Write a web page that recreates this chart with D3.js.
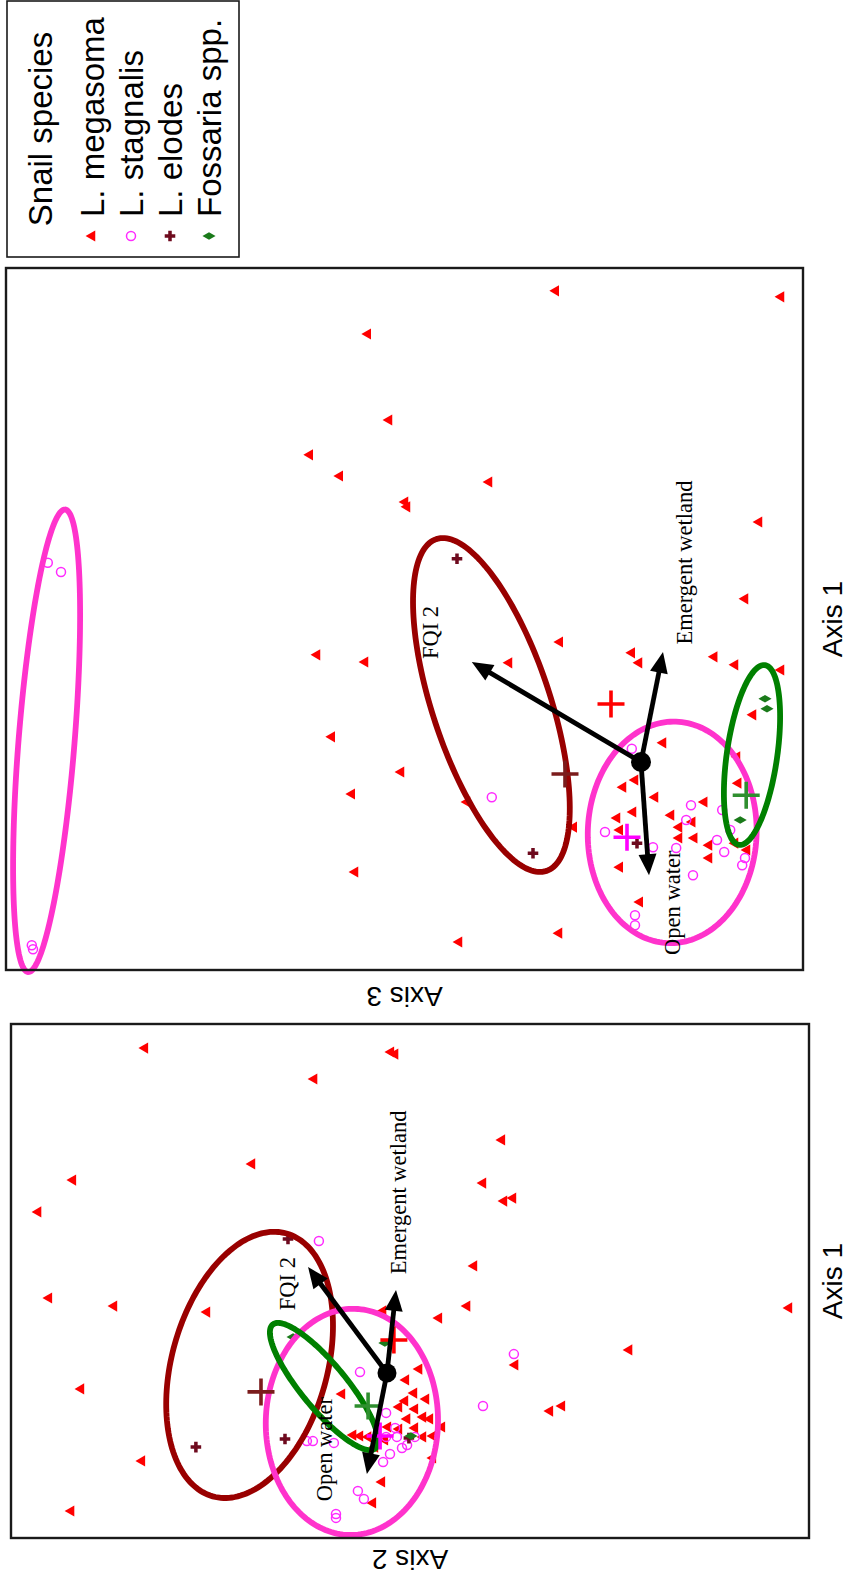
<!DOCTYPE html>
<html>
<head>
<meta charset="utf-8">
<script src="https://cdn.jsdelivr.net/npm/d3@7"></script>
<style>
  html, body { margin: 0; padding: 0; background: #ffffff; }
  svg { display: block; }
</style>
</head>
<body>
<script>
// ---------------------------------------------------------------
// Snail species in ordination space (NMDS site scores),
// with group ellipses, group centroids and fitted habitat vectors.
// ---------------------------------------------------------------

const species = ["L. megasoma", "L. stagnalis", "L. elodes", "Fossaria spp."];
const vectorNames = ["FQI 2", "Emergent wetland", "Open water"];

// ---- Axis 1 vs Axis 2 : site scores [axis1, axis2] ----
const a12Megasoma = [
  [1.083,0.807],[1.070,-0.013],[1.063,-0.027],[0.980,0.243],[0.777,-0.383],[0.697,0.450],
  [0.643,1.047],[0.633,-0.320],[0.537,1.163],[0.573,-0.390],[0.583,-0.420],[0.357,-0.290],
  [0.250,1.127],[0.223,0.910],[0.203,0.600],[0.223,-0.267],[0.183,-0.173],[0.217,-1.340],
  [0.077,-0.807],[0.027,-0.427],[-0.053,1.020],[-0.070,0.150],[-0.127,-0.543],[-0.110,-0.583],
  [-0.293,0.817],[-0.363,0.017],[-0.433,0.047],[-0.460,1.053],[-0.283,-0.153],[0.207,0.013],
  [0.013,-0.107],[-0.023,-0.063],[-0.067,-0.090],[-0.093,-0.060],[-0.087,-0.130],[-0.120,-0.093],
  [-0.113,-0.040],[-0.147,-0.120],[-0.153,-0.067],[-0.153,-0.143],[-0.180,-0.003],[-0.187,-0.040],
  [-0.183,-0.093],[-0.180,-0.183],[-0.213,-0.120],[-0.210,-0.153],[-0.207,0.113],[-0.210,0.090],
  [-0.213,0.063],[-0.247,0.040],[-0.223,0.007]
];
const a12Stagnalis = [
  [0.440,0.227],[0.003,0.090],[0.063,-0.423],[-0.110,-0.320],[-0.227,0.267],[-0.227,0.247],
  [-0.233,0.177],[-0.133,0.003],[-0.183,-0.027],[-0.213,0.003],[-0.213,-0.033],[-0.213,-0.093],
  [-0.240,-0.067],[-0.250,-0.050],[-0.270,-0.010],[-0.297,0.013],[-0.393,0.097],[-0.420,0.077],
  [-0.470,0.170],[-0.483,0.170]
];
const a12Elodes = [[0.447,0.330],[-0.247,0.637],[-0.220,0.340],[-0.217,-0.073]];
const a12Fossaria = [[0.120,0.313],[0.100,0.007],[-0.210,-0.080]];
// group centroids, in species order
const a12Centroids = [[0.110,-0.023],[-0.210,0.023],[-0.063,0.420],[-0.110,0.063]];
// fitted vectors, in vectorNames order
const a12Vectors = [[0.353,0.263],[0.277,-0.030],[-0.337,0.067]];
// ellipses: species index, centre, semi-axes, rotation (degrees)
const a12Ellipses = [
  { sp: 2, centre: [0.027, 0.458],  semi: [0.455, 0.259], rot: -15.65 },
  { sp: 1, centre: [-0.163, 0.117], semi: [0.377, 0.287], rot: -1.5 },
  { sp: 3, centre: [-0.045, 0.210], semi: [0.268, 0.075], rot: 39.6 }
];

// ---- Axis 1 vs Axis 3 : site scores [axis1, axis3] ----
const a13Megasoma = [
  [1.178,0.213],[1.163,-0.350],[1.070,0.683],[0.855,0.630],[0.768,0.828],[0.715,0.753],
  [0.700,0.380],[0.650,0.590],[0.638,0.585],[0.600,-0.295],[0.408,-0.260],[0.300,0.203],
  [0.273,0.023],[0.248,0.005],[0.263,-0.183],[0.243,-0.235],[0.230,-0.350],[0.268,0.810],
  [0.250,0.690],[0.248,0.330],[0.063,0.773],[-0.025,0.600],[-0.080,0.723],[-0.100,0.435],
  [0.048,-0.055],[0.118,-0.280],[0.013,-0.240],[-0.053,-0.243],[-0.063,0.045],[-0.088,-0.035],
  [-0.125,0.020],[-0.140,0.060],[-0.133,-0.075],[-0.100,-0.158],[-0.163,-0.095],[-0.170,0.053],
  [-0.190,-0.133],[-0.190,-0.095],[-0.208,-0.170],[-0.203,-0.235],[-0.220,-0.265],[-0.240,-0.170],
  [-0.263,0.053],[-0.163,0.168],[-0.275,0.715],[-0.350,0.003],[-0.428,0.205],[-0.450,0.455],
  [-0.045,0.015],[-0.150,-0.128]
];
const a13Stagnalis = [
  [0.498,1.483],[0.475,1.450],[-0.458,1.523],[-0.468,1.520],[0.033,0.023],[-0.088,0.373],
  [-0.108,-0.125],[-0.145,-0.113],[-0.175,0.090],[-0.213,-0.030],[-0.215,-0.088],[-0.195,-0.190],
  [-0.225,-0.208],[-0.120,-0.203],[-0.170,-0.223],[-0.240,-0.260],[-0.258,-0.253],[-0.283,-0.130],
  [-0.383,0.015],[-0.408,0.015]
];
const a13Elodes = [[0.508,0.460],[-0.228,0.270],[-0.203,0.010]];
const a13Fossaria = [[0.158,-0.310],[0.133,-0.315],[-0.145,-0.248]];
const a13Centroids = [[0.145,0.075],[-0.188,0.035],[-0.030,0.190],[-0.083,-0.263]];
const a13Vectors = [[0.250,0.423],[0.275,-0.055],[-0.283,-0.020]];
const a13Ellipses = [
  { sp: 1, centre: [0.053, 1.486],   semi: [0.580, 0.070], rot: -4.58 },
  { sp: 2, centre: [0.1425, 0.374],  semi: [0.437, 0.147], rot: 18.35 },
  { sp: 1, centre: [-0.176, -0.078], semi: [0.277, 0.211], rot: -2 },
  { sp: 3, centre: [0.0175, -0.2775],semi: [0.227, 0.063], rot: -8.2 }
];

// ---------------------------------------------------------------
// Styling
// ---------------------------------------------------------------
const pointColour   = ["#ff0000", "#ff2bff", "#6e0a1e", "#1a7a1a"];
const centroidColour= ["#ff0000", "#ff00ff", "#7b1c1c", "#2f8f2f"];
const ellipseColour = ["#ff0000", "#ff33cc", "#990000", "#008000"];

const W = 849, H = 1585;
const svg = d3.select("body").append("svg")
  .attr("width", W).attr("height", H)
  .attr("viewBox", `0 0 ${W} ${H}`);

// The figure is composed landscape (1585 x 849) and turned a quarter turn.
const fig = svg.append("g").attr("transform", `translate(0,${H}) rotate(-90)`);

function marker(g, sp, px, py) {
  if (sp === 0) {
    g.append("path").attr("d", d3.symbol(d3.symbolTriangle, 54)())
      .attr("transform", `translate(${px},${py})`).attr("fill", pointColour[0]);
  } else if (sp === 1) {
    g.append("circle").attr("cx", px).attr("cy", py).attr("r", 4.5)
      .attr("fill", "none").attr("stroke", pointColour[1]).attr("stroke-width", 1.5);
  } else if (sp === 2) {
    g.append("path").attr("d", d3.symbol(d3.symbolCross, 62)())
      .attr("transform", `translate(${px},${py})`).attr("fill", pointColour[2]);
  } else {
    g.append("path").attr("d", d3.symbol(d3.symbolDiamond, 50)())
      .attr("transform", `translate(${px},${py})`).attr("fill", pointColour[3]);
  }
}

function drawPanel(cfg) {
  const x = d3.scaleLinear().domain(cfg.xDomain).range([cfg.box.left, cfg.box.right]);
  const y = d3.scaleLinear().domain(cfg.yDomain).range([cfg.box.bottom, cfg.box.top]);
  const g = fig.append("g");

  // site scores
  const pts = g.append("g");
  cfg.sites.forEach((arr, sp) => arr.forEach(d => marker(pts, sp, x(d[0]), y(d[1]))));

  // group ellipses
  const line = d3.line().curve(d3.curveLinearClosed);
  cfg.ellipses.forEach(e => {
    const phi = e.rot * Math.PI / 180, c = Math.cos(phi), s = Math.sin(phi);
    const ring = d3.range(0, 360, 2).map(t => {
      const r = t * Math.PI / 180;
      const u = e.semi[0] * Math.cos(r), v = e.semi[1] * Math.sin(r);
      return [x(e.centre[0] + u * c - v * s), y(e.centre[1] + u * s + v * c)];
    });
    g.append("path").attr("d", line(ring)).attr("fill", "none")
      .attr("stroke", ellipseColour[e.sp]).attr("stroke-width", 5.8);
  });

  // group centroids
  cfg.centroids.forEach((d, sp) => {
    const cx = x(d[0]), cy = y(d[1]), h = 13.5;
    g.append("path").attr("d", `M${cx - h},${cy}H${cx + h}M${cx},${cy - h}V${cy + h}`)
      .attr("stroke", centroidColour[sp]).attr("stroke-width", 3.6).attr("fill", "none");
  });

  // fitted vectors
  const ox = x(0), oy = y(0);
  cfg.vectors.forEach((d, i) => {
    const tx = x(d[0]), ty = y(d[1]);
    const ang = Math.atan2(ty - oy, tx - ox);
    const headL = 21, headW = 9;
    const bx = tx - headL * Math.cos(ang), by = ty - headL * Math.sin(ang);
    g.append("line").attr("x1", ox).attr("y1", oy)
      .attr("x2", tx - (headL - 3) * Math.cos(ang)).attr("y2", ty - (headL - 3) * Math.sin(ang))
      .attr("stroke", "#000").attr("stroke-width", 4.8);
    const nx = -Math.sin(ang), ny = Math.cos(ang);
    g.append("path")
      .attr("d", `M${tx},${ty}L${bx + headW * nx},${by + headW * ny}L${bx - headW * nx},${by - headW * ny}Z`)
      .attr("fill", "#000");
    const off = cfg.labelOffsets[i];
    g.append("text").attr("x", tx + off[0]).attr("y", ty + off[1])
      .attr("text-anchor", "middle").attr("dominant-baseline", "central")
      .attr("font-family", "'Liberation Serif', 'DejaVu Serif', serif")
      .attr("font-size", 22.5).attr("fill", "#000").text(vectorNames[i]);
  });
  g.append("circle").attr("cx", ox).attr("cy", oy).attr("r", cfg.dot).attr("fill", "#000");

  // frame
  g.append("rect").attr("x", cfg.box.left).attr("y", cfg.box.top)
    .attr("width", cfg.box.right - cfg.box.left).attr("height", cfg.box.bottom - cfg.box.top)
    .attr("fill", "none").attr("stroke", "#1a1a1a").attr("stroke-width", 2.4);

  // axis titles
  g.append("text").attr("x", (cfg.box.left + cfg.box.right) / 2).attr("y", 842)
    .attr("text-anchor", "middle")
    .attr("font-family", "'Liberation Sans', Arial, sans-serif").attr("font-size", 28)
    .attr("fill", "#000").text(cfg.xTitle);
  g.append("text")
    .attr("transform", `translate(${cfg.yTitleAt},${(cfg.box.top + cfg.box.bottom) / 2}) rotate(-90)`)
    .attr("text-anchor", "middle")
    .attr("font-family", "'Liberation Sans', Arial, sans-serif").attr("font-size", 28)
    .attr("fill", "#000").text(cfg.yTitle);
}

drawPanel({
  box: { left: 47, right: 561, top: 11, bottom: 809 },
  xDomain: [-0.55, 1.1633], yDomain: [-1.4067, 1.2533],
  sites: [a12Megasoma, a12Stagnalis, a12Elodes, a12Fossaria],
  centroids: a12Centroids, vectors: a12Vectors, ellipses: a12Ellipses,
  labelOffsets: [[-16.5, -21], [97.5, 3], [25, -42]],
  dot: 9.5, xTitle: "Axis 1", yTitle: "Axis 2", yTitleAt: 35
});

drawPanel({
  box: { left: 615, right: 1317, top: 6, bottom: 803 },
  xDomain: [-0.52, 1.235], yDomain: [-0.405, 1.5875],
  sites: [a13Megasoma, a13Stagnalis, a13Elodes, a13Fossaria],
  centroids: a13Centroids, vectors: a13Vectors, ellipses: a13Ellipses,
  labelOffsets: [[29.5, -41], [89.5, 21], [-27.5, 23]],
  dot: 10, xTitle: "Axis 1", yTitle: "Axis 3", yTitleAt: 598
});

// ---------------------------------------------------------------
// Legend
// ---------------------------------------------------------------
const leg = fig.append("g");
leg.append("rect").attr("x", 1328).attr("y", 7).attr("width", 256).attr("height", 232)
  .attr("fill", "#fff").attr("stroke", "#1a1a1a").attr("stroke-width", 1.6);
leg.append("text").attr("x", 1456).attr("y", 40)
  .attr("text-anchor", "middle").attr("dominant-baseline", "central")
  .attr("font-family", "'Liberation Sans', Arial, sans-serif").attr("font-size", 33)
  .attr("fill", "#000").text("Snail species");
const rowY = d3.scalePoint().domain(species).range([92, 209]);
species.forEach((sp, i) => {
  marker(leg, i, 1349, rowY(sp));
  leg.append("text").attr("x", 1368).attr("y", rowY(sp))
    .attr("dominant-baseline", "central")
    .attr("font-family", "'Liberation Sans', Arial, sans-serif").attr("font-size", 33)
    .attr("fill", "#000").text(sp);
});
</script>
</body>
</html>
